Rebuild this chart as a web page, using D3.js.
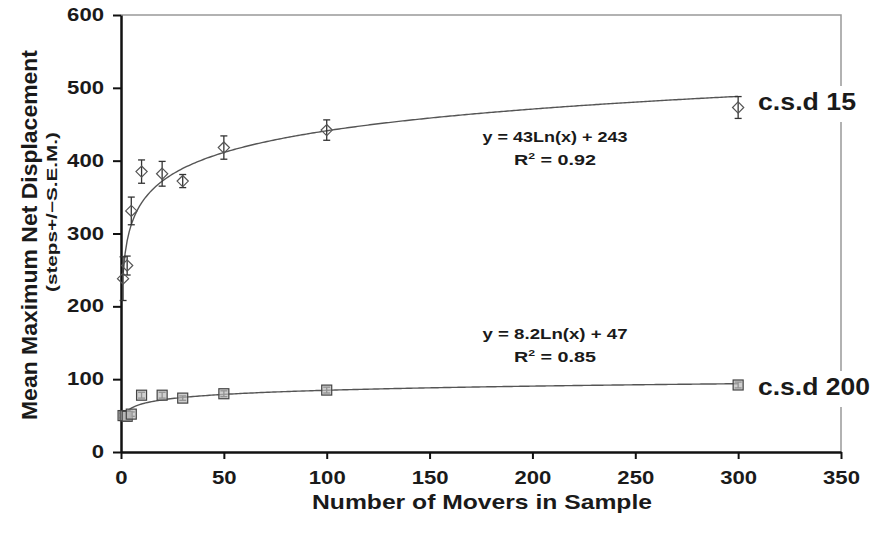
<!DOCTYPE html>
<html><head><meta charset="utf-8">
<script src="https://cdn.jsdelivr.net/npm/d3@7"></script>
<style>body{margin:0;background:#fff}svg{display:block}text{font-family:"Liberation Sans",Arial,sans-serif;font-weight:bold;fill:#1a1a1a}</style>
</head><body><svg id="c" width="875" height="533"></svg>
<script>
// data
const xTicks = [0,50,100,150,200,250,300,350];
const yTicks = [0,100,200,300,400,500,600];
const csd15X = [1,3,5,10,20,30,50,100,300];
const csd15Y = [238,256,331,385,382,372,418,442,473];
const csd15Err = [30,13,19,16,17,9,16,14,15];
const csd200X = [1,2,3,5,10,20,30,50,100,300];
const csd200Y = [50,50,49,52,78,78,74,80,85,92];
const csd200Err = [3,3,3,3,4,4,3,4,4,4];
const fit15 = [43,243];   // y = a ln x + b
const fit200 = [8.2,47];
const eq15 = ["y = 43Ln(x) + 243","0.92"];
const eq200 = ["y = 8.2Ln(x) + 47","0.85"];

const svg = d3.select("#c");
const L=121, R=841, T=15, B=452;
const x = d3.scaleLinear().domain([0,350]).range([L,R]);
const y = d3.scaleLinear().domain([0,600]).range([B,T]);

// frame (top & right gray)
svg.append("path").attr("d",`M${L},${T}H${R}V${B}`).attr("fill","none").attr("stroke","#999").attr("stroke-width",1.5);

// axes
const gx = svg.append("g").attr("transform",`translate(0,${B})`)
  .call(d3.axisBottom(x).tickValues(xTicks).tickSize(7).tickSizeOuter(0));
const gy = svg.append("g").attr("transform",`translate(${L},0)`)
  .call(d3.axisLeft(y).tickValues(yTicks).tickSize(8).tickSizeOuter(0));
[gx,gy].forEach(g=>{
  g.attr("font-size",null).attr("font-family",null);
  g.select(".domain").attr("stroke","#111").attr("stroke-width",2.5);
  g.selectAll(".tick line").attr("stroke","#111").attr("stroke-width",2);
  g.selectAll("text").style("font-size","17.5px").attr("fill","#1a1a1a")
    .attr("textLength",d=>String(d).length*12.3).attr("lengthAdjust","spacingAndGlyphs");
});
gx.selectAll("text").attr("y",20).attr("dy","0.71em");
gy.selectAll("text").attr("x",-17);

// trend curves
function curve(fit){
  const pts = d3.range(1,301,1).map(v=>[v, fit[0]*Math.log(v)+fit[1]]);
  return d3.line().x(d=>x(d[0])).y(d=>y(d[1]))(pts);
}
svg.append("path").attr("d",curve(fit15)).attr("fill","none").attr("stroke","#555").attr("stroke-width",1.4);
svg.append("path").attr("d",curve(fit200)).attr("fill","none").attr("stroke","#555").attr("stroke-width",1.4);

// error bars
function errs(xs,ys,es){
  const g = svg.append("g").attr("stroke","#333").attr("stroke-width",1.3);
  xs.forEach((v,i)=>{
    const cx=x(v), y1=y(ys[i]+es[i]), y2=y(ys[i]-es[i]);
    g.append("line").attr("x1",cx).attr("x2",cx).attr("y1",y1).attr("y2",y2);
    g.append("line").attr("x1",cx-3.5).attr("x2",cx+3.5).attr("y1",y1).attr("y2",y1);
    g.append("line").attr("x1",cx-3.5).attr("x2",cx+3.5).attr("y1",y2).attr("y2",y2);
  });
}
errs(csd15X,csd15Y,csd15Err);
errs(csd200X,csd200Y,csd200Err);

// markers
svg.append("g").selectAll("path").data(csd15X).join("path")
  .attr("d",d3.symbol(d3.symbolDiamond2,80))
  .attr("transform",(d,i)=>`translate(${x(d)},${y(csd15Y[i])})`)
  .attr("fill","none").attr("stroke","#555").attr("stroke-width",1.2);
svg.append("g").selectAll("rect").data(csd200X).join("rect")
  .attr("x",d=>x(d)-5).attr("y",(d,i)=>y(csd200Y[i])-5).attr("width",10).attr("height",10)
  .attr("fill","#bbb").attr("fill-opacity",0.7).attr("stroke","#444").attr("stroke-width",1.2);

// series labels with white background
function label(txt,xx,yy,w){
  const bg = svg.append("rect").attr("fill","#fff");
  const t = svg.append("text").attr("x",xx).attr("y",yy).style("font-size","23px")
    .attr("textLength",w).attr("lengthAdjust","spacingAndGlyphs").text(txt);
  const bb = t.node().getBBox();
  bg.attr("x",bb.x-4).attr("y",bb.y-3).attr("width",bb.width+8).attr("height",bb.height+10);
}
label("c.s.d 15",758,110,98);
label("c.s.d 200",758,395,112);

// equations
function eq(e,cx,by){
  svg.append("text").attr("x",cx).attr("y",by).attr("text-anchor","middle").style("font-size","14.5px")
    .attr("textLength",145).attr("lengthAdjust","spacingAndGlyphs").text(e[0]);
  const t = svg.append("text").attr("x",cx).attr("y",by+23).attr("text-anchor","middle").style("font-size","14.5px")
    .attr("textLength",82).attr("lengthAdjust","spacingAndGlyphs");
  t.append("tspan").text("R");
  t.append("tspan").attr("dy","-6").style("font-size","9px").text("2");
  t.append("tspan").attr("dy","6").text(" = "+e[1]);
}
eq(eq15,555,142);
eq(eq200,555,339);

// axis titles
svg.append("text").attr("x",482).attr("y",509).attr("text-anchor","middle").style("font-size","21px")
  .attr("textLength",340).attr("lengthAdjust","spacingAndGlyphs").text("Number of Movers in Sample");
svg.append("text").attr("transform","translate(37,235) rotate(-90)").attr("text-anchor","middle").style("font-size","22px")
  .attr("textLength",370).attr("lengthAdjust","spacingAndGlyphs").text("Mean Maximum Net Displacement");
svg.append("text").attr("transform","translate(57,212) rotate(-90)").attr("text-anchor","middle").style("font-size","14px")
  .attr("textLength",160).attr("lengthAdjust","spacingAndGlyphs").text("(steps+/\u2212S.E.M.)");
</script></body></html>
